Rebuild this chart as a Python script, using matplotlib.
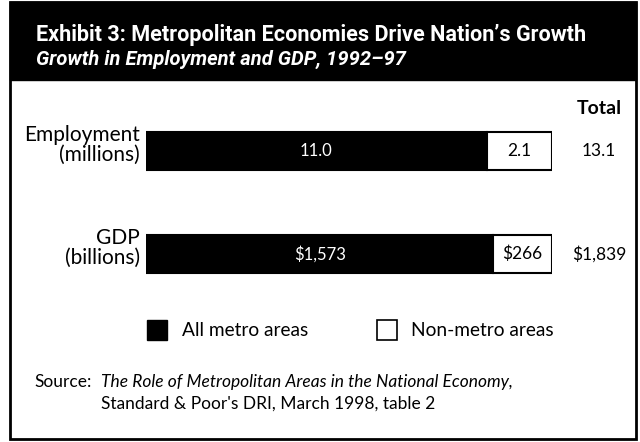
import matplotlib
matplotlib.use("Agg")
import matplotlib.pyplot as plt
from matplotlib.patches import Rectangle, Patch

# ---- data ----
categories = ["Employment\n(millions)", "GDP\n(billions)"]
metro = [11.0, 1573]
non_metro = [2.1, 266]
formats = ["{:.1f}", "${:,.0f}"]
series_names = ["All metro areas", "Non-metro areas"]
title = "Exhibit 3: Metropolitan Economies Drive Nation\u2019s Growth"
subtitle = "Growth in Employment and GDP, 1992\u201397"
total_label = "Total"
source_lead = "Source:"
source_line1 = "The Role of Metropolitan Areas in the National Economy,"
source_line2 = "Standard & Poor's DRI, March 1998, table 2"

W, H = 640, 442
def fx(px):
    return px / W
def fy(py):
    return 1 - py / H

body = ["Lato", "DejaVu Sans"]
head = ["Roboto", "DejaVu Sans"]

fig = plt.figure(figsize=(6.4, 4.42), dpi=100)
fig.patch.set_facecolor("white")

# frame and header band
fig.patches.append(Rectangle((fx(10), fy(439)), fx(636) - fx(10), fy(2) - fy(439),
                             transform=fig.transFigure, fill=False, lw=2, ec="black", zorder=0))
fig.patches.append(Rectangle((fx(10), fy(80)), fx(636) - fx(10), fy(2) - fy(80),
                             transform=fig.transFigure, fc="black", ec="black", zorder=0))
fig.text(fx(36), fy(41), title, color="white", fontsize=15.6, fontweight="bold",
         family=head, va="baseline", ha="left")
fig.text(fx(36), fy(65), subtitle, color="white", fontsize=14.5, fontweight="bold",
         fontstyle="italic", family=head, va="baseline", ha="left")

# bar axes
ax = fig.add_axes([fx(146), fy(300), 406 / W, 200 / H])
ax.axis("off")
ax.set_xlim(0, 1)
ax.set_ylim(1.447, -0.495)

totals = [m + n for m, n in zip(metro, non_metro)]
share_m = [m / t for m, t in zip(metro, totals)]
share_n = [n / t for n, t in zip(non_metro, totals)]
ypos = list(range(len(categories)))
h = 0.37
b1 = ax.barh(ypos, share_m, height=h, color="black", edgecolor="black", lw=1.5,
             label=series_names[0])
b2 = ax.barh(ypos, share_n, left=share_m, height=h, color="white", edgecolor="black",
             lw=1.5, label=series_names[1])

for i, y in enumerate(ypos):
    f = formats[i]
    ax.text(share_m[i] / 2, y, f.format(metro[i]), color="white", fontsize=12,
            family=body, ha="center", va="center")
    ax.text(share_m[i] + share_n[i] / 2, y, f.format(non_metro[i]), color="black",
            fontsize=12.5, family=body, ha="center", va="center")
    ax.text(1.116, y, f.format(totals[i]), color="black", fontsize=12.5, family=body,
            ha="center", va="center")
    ax.text(-0.015, y - 0.06, categories[i], color="black", fontsize=15, family=body,
            ha="right", va="center", multialignment="right", linespacing=0.98)

ax.text(1.116, -0.41, total_label, fontsize=14, family=body, fontweight="bold",
        ha="center", va="center")

# legend
leg = fig.legend(handles=[Patch(fc="black", ec="black"), Patch(fc="white", ec="black", lw=1.2)],
                 labels=series_names, loc="center left",
                 bbox_to_anchor=(fx(147), fy(330)), ncol=2, frameon=False,
                 prop={"family": body, "size": 13.8}, handlelength=1.05, handleheight=1.3,
                 handletextpad=0.75, columnspacing=3.6, borderpad=0, borderaxespad=0)

# source
fig.text(fx(34), fy(382), source_lead, fontsize=12.5, family=body, va="center", ha="left")
fig.text(fx(101), fy(382), source_line1, fontsize=12.5, family=body, style="italic",
         va="center", ha="left")
fig.text(fx(101), fy(404), source_line2, fontsize=12.5, family=body, va="center", ha="left")

fig.savefig("out.png", dpi=100)
